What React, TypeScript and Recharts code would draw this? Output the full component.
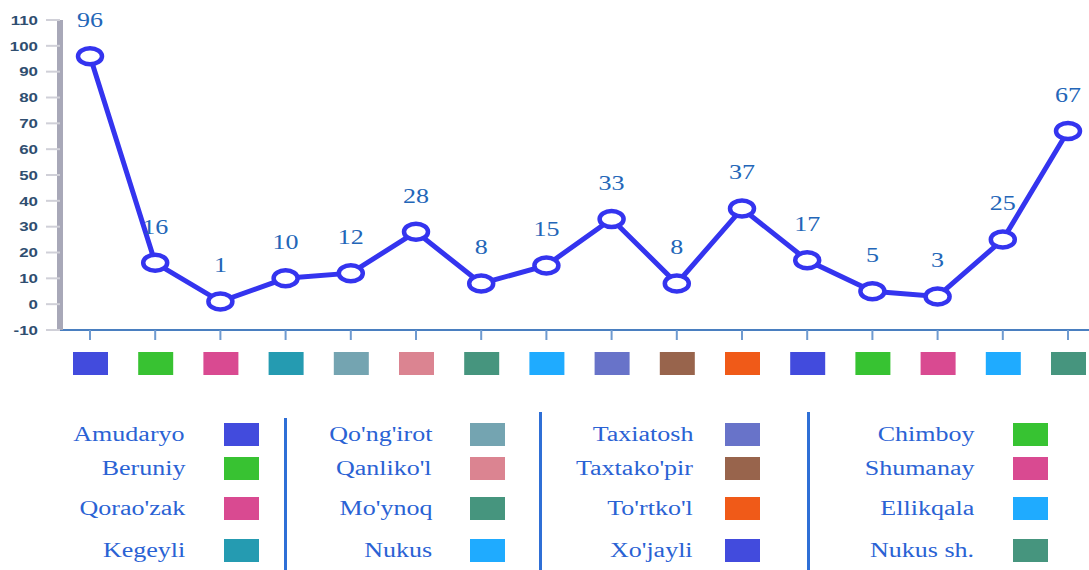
import { LineChart, Line, XAxis, YAxis, LabelList } from "recharts";

const categories = [
  "Amudaryo", "Beruniy", "Qorao'zak", "Kegeyli",
  "Qo'ng'irot", "Qanliko'l", "Mo'ynoq", "Nukus",
  "Taxiatosh", "Taxtako'pir", "To'rtko'l", "Xo'jayli",
  "Chimboy", "Shumanay", "Ellikqala", "Nukus sh.",
];
const values = [96, 16, 1, 10, 12, 28, 8, 15, 33, 8, 37, 17, 5, 3, 25, 67];
const swatches = [
  "#424bdd", "#38c232", "#d94a91", "#259bb1",
  "#74a4b1", "#db8491", "#46957e", "#1fabff",
  "#6873c9", "#98644c", "#f05a18", "#424bdd",
  "#37c332", "#d94a91", "#1fabff", "#46957e",
];
const yTicks = [-10, 0, 10, 20, 30, 40, 50, 60, 70, 80, 90, 100, 110];

const data = categories.map((name, i) => ({ name, value: values[i], color: swatches[i] }));

const LINE = "#3434ef";
const serif = '"Liberation Serif", "DejaVu Serif", serif';

const YTick = ({ x, y, payload }: any) => (
  <text
    transform={`translate(${x},${y}) scale(1.3,1)`}
    textAnchor="end"
    dominantBaseline="central"
    fontFamily='"Liberation Sans", Arial, sans-serif'
    fontWeight={700}
    fontSize={13}
    fill="#2f4e70"
  >
    {payload.value}
  </text>
);

const XTick = ({ x, y, payload, index }: any) => {
  const c = data[index]?.color ?? "#999";
  return <rect x={x - 17} y={y + 10} width={35} height={23} fill={c} />;
};

const Dot = ({ cx, cy }: any) =>
  cx == null ? null : (
    <ellipse cx={cx} cy={cy} rx={12} ry={8} fill="#fff" stroke={LINE} strokeWidth={4.5} />
  );

const ValueLabel = ({ x, y, value }: any) => (
  <text
    transform={`translate(${x},${y - 36}) scale(1.3,1)`}
    textAnchor="middle"
    dominantBaseline="central"
    fontFamily={serif}
    fontSize={20}
    fill="#2366b8"
  >
    {value}
  </text>
);

const labelRight = [185, 432, 693, 974];
const squareLeft = [224, 470, 725, 1013];
const rowCenters = [434, 468, 508, 550];
const separators = [285, 540, 808];

function Legend() {
  return (
    <>
      {separators.map((sx, i) => (
        <div
          key={`sep-${i}`}
          style={{
            position: "absolute",
            left: sx - 1,
            top: i === 0 ? 418 : 412,
            width: 3,
            height: 570 - (i === 0 ? 418 : 412),
            background: "#2f6fd6",
          }}
        />
      ))}
      {categories.map((name, i) => {
        const col = Math.floor(i / 4);
        const row = i % 4;
        const cy = rowCenters[row];
        return (
          <div key={name}>
            <div
              style={{
                position: "absolute",
                right: 1089 - labelRight[col],
                top: cy - 13,
                height: 26,
                lineHeight: "26px",
                fontFamily: serif,
                fontSize: 20,
                color: "#2a62d4",
                whiteSpace: "nowrap",
                transform: "scaleX(1.3)",
                transformOrigin: "right center",
              }}
            >
              {name}
            </div>
            <div
              style={{
                position: "absolute",
                left: squareLeft[col],
                top: cy - 11,
                width: 35,
                height: 23,
                background: swatches[i],
              }}
            />
          </div>
        );
      })}
    </>
  );
}

export default function App() {
  return (
    <div style={{ position: "relative", width: 1089, height: 570, background: "#fff", overflow: "hidden" }}>
      <style>{`body{margin:0}`}</style>
      <LineChart width={1089} height={390} data={data} margin={{ top: 20, right: 0, bottom: 0, left: 0 }}>
        <XAxis
          dataKey="name"
          interval={0}
          padding={{ left: 30, right: 21 }}
          height={60}
          axisLine={{ stroke: "#4a7fc0", strokeWidth: 2 }}
          tickLine={{ stroke: "#6e9ad0", strokeWidth: 2 }}
          tickSize={10}
          tick={<XTick />}
        />
        <YAxis
          domain={[-10, 110]}
          ticks={yTicks}
          interval={0}
          width={60}
          axisLine={{ stroke: "#a8a8b8", strokeWidth: 6 }}
          tickLine={{ stroke: "#d0d0d8", strokeWidth: 2 }}
          tickSize={14}
          tickMargin={8}
          tick={<YTick />}
        />
        <Line
          type="linear"
          dataKey="value"
          stroke={LINE}
          strokeWidth={5}
          dot={<Dot />}
          activeDot={false}
          isAnimationActive={false}
        >
          <LabelList dataKey="value" content={<ValueLabel />} />
        </Line>
      </LineChart>
      <Legend />
    </div>
  );
}
